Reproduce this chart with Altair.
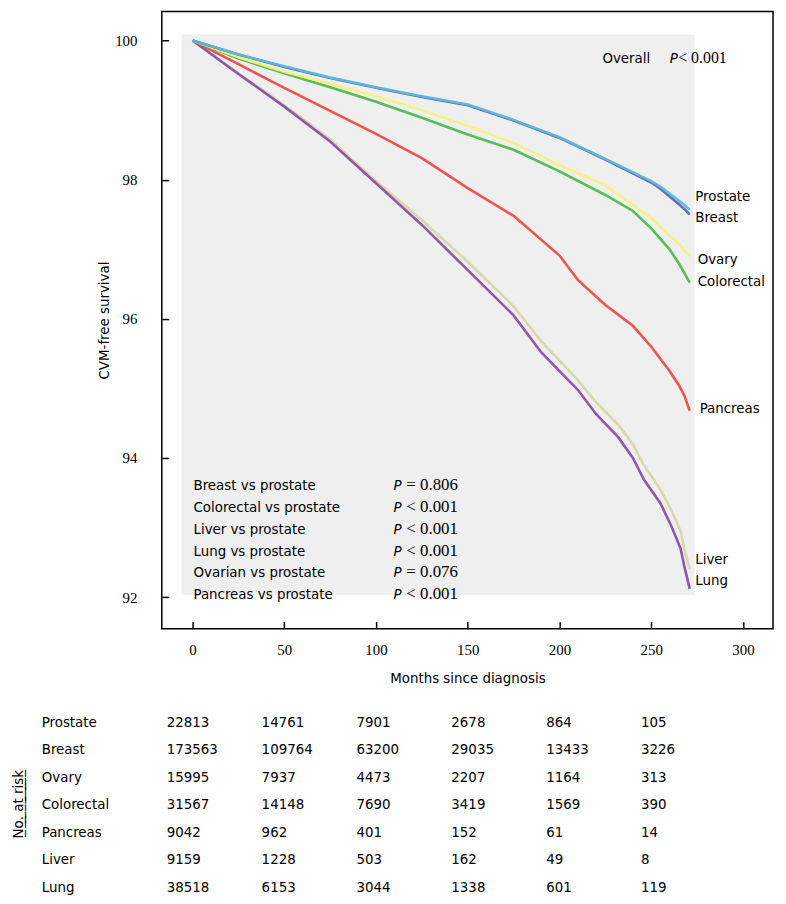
import altair as alt
import pandas as pd

SANS = "DejaVu Sans Condensed, DejaVu Sans, sans-serif"
SERIF = "Liberation Serif, DejaVu Serif, serif"

# ---------------- data ----------------
series = ["Prostate", "Breast", "Ovary", "Colorectal", "Pancreas", "Liver", "Lung"]
colors = ["#5cb8dc", "#5866b4", "#f6f07c", "#4cbb4c", "#ee4a4a", "#d9d5a4", "#8a4ea6"]
draw_order = ["Liver", "Lung", "Pancreas", "Colorectal", "Ovary", "Breast", "Prostate"]

prostate_m = [0, 25, 50, 75, 100, 125, 150, 175, 200, 225, 250, 255, 260, 265, 268, 271]
prostate_v = [100, 99.80, 99.63, 99.47, 99.33, 99.20, 99.08, 98.86, 98.61, 98.30, 97.98, 97.90, 97.80, 97.70, 97.64, 97.57]
breast_m = [0, 25, 50, 75, 100, 125, 150, 175, 200, 225, 250, 255, 260, 265, 268, 271]
breast_v = [100, 99.80, 99.62, 99.46, 99.32, 99.19, 99.07, 98.85, 98.60, 98.29, 97.96, 97.87, 97.76, 97.65, 97.58, 97.50]
ovary_m = [0, 25, 50, 75, 100, 125, 150, 175, 200, 225, 250, 260, 265, 271]
ovary_v = [100, 99.76, 99.55, 99.38, 99.20, 99.00, 98.77, 98.53, 98.21, 97.92, 97.45, 97.20, 97.08, 96.90]
colorectal_m = [0, 25, 50, 75, 100, 125, 150, 175, 200, 225, 240, 250, 260, 265, 271]
colorectal_v = [100, 99.74, 99.53, 99.33, 99.12, 98.89, 98.65, 98.43, 98.12, 97.78, 97.55, 97.30, 97.00, 96.80, 96.52]
pancreas_m = [0, 25, 50, 75, 100, 125, 150, 175, 200, 210, 225, 240, 250, 260, 265, 268, 271]
pancreas_v = [100, 99.66, 99.32, 98.99, 98.66, 98.31, 97.88, 97.48, 96.91, 96.56, 96.20, 95.90, 95.60, 95.25, 95.05, 94.90, 94.68]
liver_m = [0, 25, 50, 75, 100, 125, 150, 175, 190, 200, 210, 220, 232, 240, 246, 255, 261, 266, 268, 271]
liver_v = [100, 99.53, 99.07, 98.58, 97.98, 97.42, 96.82, 96.18, 95.68, 95.40, 95.12, 94.80, 94.48, 94.20, 93.90, 93.55, 93.25, 92.95, 92.70, 92.40]
lung_m = [0, 25, 50, 75, 100, 125, 150, 175, 190, 200, 210, 220, 232, 240, 246, 255, 261, 266, 268, 271]
lung_v = [100, 99.52, 99.05, 98.55, 97.95, 97.35, 96.70, 96.05, 95.52, 95.25, 94.98, 94.63, 94.30, 94.00, 93.69, 93.35, 93.02, 92.70, 92.45, 92.12]

curves = {
    "Prostate": (prostate_m, prostate_v),
    "Breast": (breast_m, breast_v),
    "Ovary": (ovary_m, ovary_v),
    "Colorectal": (colorectal_m, colorectal_v),
    "Pancreas": (pancreas_m, pancreas_v),
    "Liver": (liver_m, liver_v),
    "Lung": (lung_m, lung_v),
}

# end-of-curve labels
label_x = [274, 274, 275.3, 275.3, 276.4, 274, 274]
label_y = [97.76, 97.46, 96.86, 96.54, 94.72, 92.55, 92.24]

# pairwise comparisons
stat_names = ["Breast vs prostate", "Colorectal vs prostate", "Liver vs prostate",
              "Lung vs prostate", "Ovarian vs prostate", "Pancreas vs prostate"]
stat_vals = ["= 0.806", "< 0.001", "< 0.001", "< 0.001", "= 0.076", "< 0.001"]
stat_y = [93.61, 93.30, 92.98, 92.67, 92.36, 92.04]
stat_name_x, stat_p_x, stat_val_x = 0.5, 109.5, 116.5

overall_x = [223.4, 260.1, 264.7]
overall_y = 99.745

# shaded plot region
panel_x = [-6, 273.6]
panel_y = [92.03, 100.085]

# number at risk
risk_times = [0, 50, 100, 150, 200, 250]
risk = {
    "Prostate": [22813, 14761, 7901, 2678, 864, 105],
    "Breast": [173563, 109764, 63200, 29035, 13433, 3226],
    "Ovary": [15995, 7937, 4473, 2207, 1164, 313],
    "Colorectal": [31567, 14148, 7690, 3419, 1569, 390],
    "Pancreas": [9042, 962, 401, 152, 61, 14],
    "Liver": [9159, 1228, 503, 162, 49, 8],
    "Lung": [38518, 6153, 3044, 1338, 601, 119],
}

x_ticks = [0, 50, 100, 150, 200, 250, 300]
y_ticks = [92, 94, 96, 98, 100]
x_domain = [-16.77, 316.4]
y_domain = [91.548, 100.418]

# ---------------- frames ----------------
rows = []
for s in draw_order:
    m, v = curves[s]
    for a, b in zip(m, v):
        rows.append({"series": s, "month": a, "surv": b})
curve_df = pd.DataFrame(rows)

lab_df = pd.DataFrame({"series": series, "x": label_x, "y": label_y})
stat_df = pd.DataFrame({"name": stat_names, "val": stat_vals, "y": stat_y,
                        "nx": stat_name_x, "px": stat_p_x, "vx": stat_val_x})
overall_df = pd.DataFrame({"x": overall_x, "y": [overall_y] * 3,
                           "t": ["Overall", "P", "< 0.001"],
                           "kind": ["sans", "ital", "serif"]})
panel_df = pd.DataFrame({"x": [panel_x[0]], "x2": [panel_x[1]],
                         "y": [panel_y[0]], "y2": [panel_y[1]]})
risk_rows = []
for s in series:
    for t, n in zip(risk_times, risk[s]):
        risk_rows.append({"series": s, "time": t, "n": str(n)})
risk_df = pd.DataFrame(risk_rows)
risk_names = pd.DataFrame({"series": series, "time": [0] * len(series)})
norisk_df = pd.DataFrame({"series": ["Colorectal"], "time": [0],
                          "t": ["N\u0332o\u0332.\u0332 \u0332a\u0332t\u0332 \u0332r\u0332i\u0332s\u0332k\u0332"]})

xs = alt.Scale(domain=x_domain, nice=False, zero=False)
ys = alt.Scale(domain=y_domain, nice=False, zero=False)

x_axis = alt.Axis(values=x_ticks, offset=-7, tickSize=7, tickWidth=1.5, tickColor="black",
                  domain=False, grid=False, labelFont=SERIF, labelFontSize=15,
                  labelColor="black", labelPadding=14, labelFlush=False,
                  title="Months since diagnosis", titleFont=SANS, titleFontSize=15,
                  titleFontWeight="normal", titleColor="black", titlePadding=13)
y_axis = alt.Axis(values=y_ticks, offset=-7, tickSize=7, tickWidth=1.5, tickColor="black",
                  domain=False, grid=False, labelFont=SERIF, labelFontSize=15,
                  labelColor="black", labelPadding=25, format="d",
                  title="CVM-free survival", titleFont=SANS, titleFontSize=15,
                  titleFontWeight="normal", titleColor="black", titlePadding=3)

panel = alt.Chart(panel_df).mark_rect(color="#efefef").encode(
    x=alt.X("x:Q", scale=xs, axis=x_axis), x2="x2:Q",
    y=alt.Y("y:Q", scale=ys, axis=y_axis), y2="y2:Q")

lines = alt.Chart(curve_df).mark_line(strokeWidth=2.6, opacity=0.95).encode(
    x=alt.X("month:Q", scale=xs),
    y=alt.Y("surv:Q", scale=ys),
    color=alt.Color("series:N", scale=alt.Scale(domain=series, range=colors), legend=None),
    detail="series:N")

labels = alt.Chart(lab_df).mark_text(align="left", baseline="middle", font=SANS,
                                     fontSize=15, color="black").encode(
    x=alt.X("x:Q", scale=xs), y=alt.Y("y:Q", scale=ys), text="series:N")

stat_names_l = alt.Chart(stat_df).mark_text(align="left", baseline="middle", font=SANS,
                                            fontSize=15, color="black").encode(
    x=alt.X("nx:Q", scale=xs), y=alt.Y("y:Q", scale=ys), text="name:N")
stat_p = alt.Chart(stat_df).mark_text(align="left", baseline="middle", font=SANS,
                                      fontSize=15, fontStyle="italic", color="black").encode(
    x=alt.X("px:Q", scale=xs), y=alt.Y("y:Q", scale=ys), text=alt.value("P"))
stat_v = alt.Chart(stat_df).mark_text(align="left", baseline="middle", font=SERIF,
                                      fontSize=17, color="black").encode(
    x=alt.X("vx:Q", scale=xs), y=alt.Y("y:Q", scale=ys), text="val:N")

ov_sans = alt.Chart(overall_df).transform_filter(alt.datum.kind == "sans").mark_text(
    align="left", baseline="middle", font=SANS, fontSize=15, color="black").encode(
    x=alt.X("x:Q", scale=xs), y=alt.Y("y:Q", scale=ys), text="t:N")
ov_ital = alt.Chart(overall_df).transform_filter(alt.datum.kind == "ital").mark_text(
    align="left", baseline="middle", font=SANS, fontSize=15, fontStyle="italic",
    color="black").encode(
    x=alt.X("x:Q", scale=xs), y=alt.Y("y:Q", scale=ys), text="t:N")
ov_serif = alt.Chart(overall_df).transform_filter(alt.datum.kind == "serif").mark_text(
    align="left", baseline="middle", font=SERIF, fontSize=16, color="black").encode(
    x=alt.X("x:Q", scale=xs), y=alt.Y("y:Q", scale=ys), text="t:N")

main = alt.layer(panel, lines, labels, stat_names_l, stat_p, stat_v,
                 ov_sans, ov_ital, ov_serif)

tx = alt.Scale(domain=[0, 250], range=[5, 483])
ty = alt.Scale(type="point", domain=series, range=[716, 882], padding=0)

risk_nums = alt.Chart(risk_df).mark_text(align="left", baseline="middle", font=SANS,
                                         fontSize=15, color="black").encode(
    x=alt.X("time:Q", scale=tx, axis=None),
    y=alt.Y("series:N", scale=ty, axis=None), text="n:N")
risk_lab = alt.Chart(risk_names).mark_text(align="left", baseline="middle", font=SANS,
                                           fontSize=15, color="black", dx=-126).encode(
    x=alt.X("time:Q", scale=tx, axis=None),
    y=alt.Y("series:N", scale=ty, axis=None), text="series:N")
norisk = alt.Chart(norisk_df).mark_text(align="center", baseline="middle", font=SANS,
                                        fontSize=15, color="black", angle=270, dy=-150).encode(
    x=alt.X("time:Q", scale=tx, axis=None),
    y=alt.Y("series:N", scale=ty, axis=None), text="t:N")

table = alt.layer(risk_nums, risk_lab, norisk)

chart = alt.layer(main, table).resolve_scale(
    x="independent", y="independent", color="independent"
).properties(
    width=616, height=622,
    autosize=alt.AutoSizeParams(type="none"),
    padding={"left": 155, "top": 0, "right": 5, "bottom": 270},
    background="white",
).configure_view(stroke="black", strokeWidth=1.5)

chart.save("out.html", embed_options={"renderer": "svg", "actions": False})
